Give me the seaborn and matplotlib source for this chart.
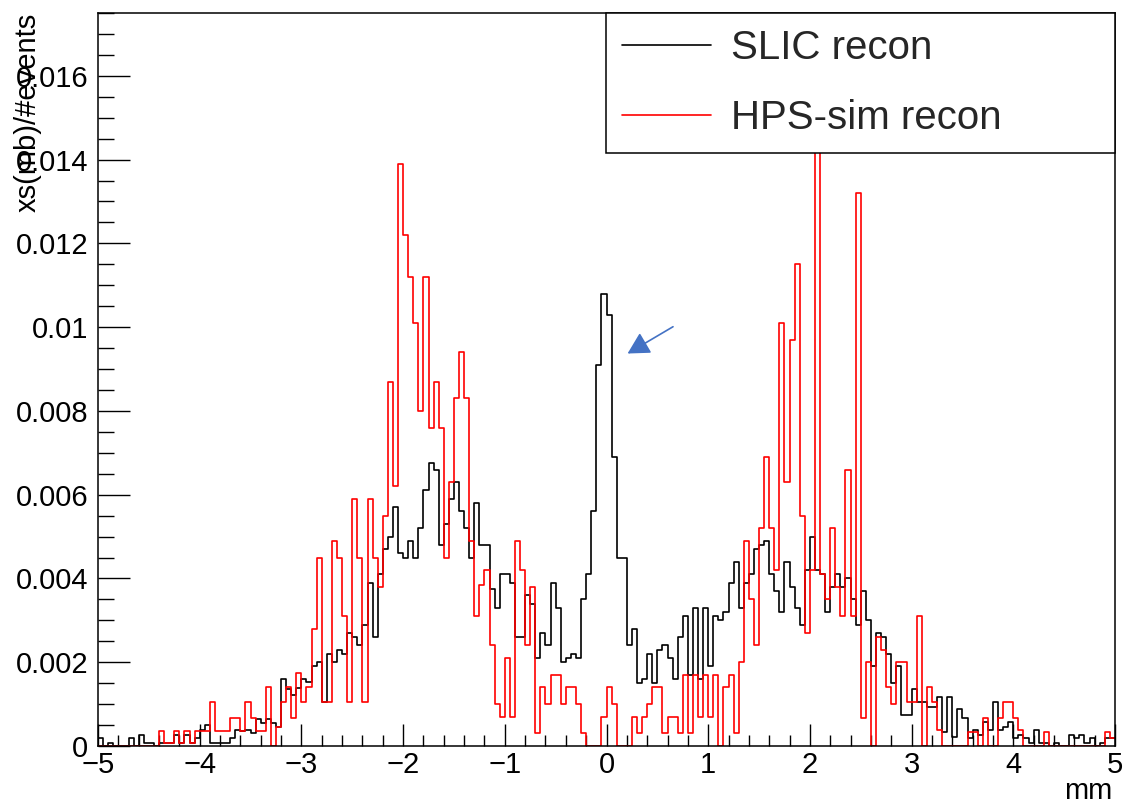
import numpy as np
import pandas as pd
import matplotlib
matplotlib.use("Agg")
import matplotlib.pyplot as plt
from matplotlib.lines import Line2D
from matplotlib.ticker import MultipleLocator, FuncFormatter
import seaborn as sns

# ---------------- data ----------------
x_min, x_max, n_bins = -5.0, 5.0, 200
series_names = ["SLIC recon", "HPS-sim recon"]
series_colors = ["#000000", "#ff0000"]
x_label = "mm"
y_label = "xs(mb)/#events"

slic_recon = [
    0.00018, 0, 0.00008, 0, 0, 0, 0.00018, 0, 0.00026, 0.00008,
    0.00008, 0, 0.00008, 0.00008, 0.00008, 0.00026, 0.00008, 0.00026, 0.00008, 0.00018,
    0.00038, 0.00049, 0.00008, 0.00008, 0.00008, 0.00008, 0.00018, 0.00038, 0.00036, 0.00038,
    0.00031, 0.00065, 0.00056, 0.00065, 0.00055, 0.00046, 0.0016, 0.00136, 0.00122, 0.00139,
    0.0016, 0.00153, 0.0019, 0.0020, 0.00106, 0.0022, 0.0020, 0.0023, 0.0022, 0.0027,
    0.0026, 0.0024, 0.0029, 0.0039, 0.0026, 0.0041, 0.0047, 0.0050, 0.0057, 0.0046,
    0.0045, 0.0049, 0.0045, 0.0052, 0.0061, 0.00675, 0.0066, 0.0048, 0.0053, 0.0059,
    0.0063, 0.0056, 0.0052, 0.0045, 0.0058, 0.0048, 0.0048, 0.00375, 0.0033, 0.0041,
    0.0041, 0.0039, 0.0026, 0.0026, 0.0036, 0.0034, 0.0021, 0.0027, 0.0024, 0.0039,
    0.0033, 0.0020, 0.0021, 0.0022, 0.0021, 0.0035, 0.0041, 0.0056, 0.0091, 0.0108,
    0.0103, 0.0069, 0.0045, 0.0045, 0.0024, 0.0028, 0.0015, 0.0016, 0.0022, 0.0015,
    0.0023, 0.0024, 0.0021, 0.0016, 0.0026, 0.0031, 0.0017, 0.0033, 0.0016, 0.0033,
    0.0019, 0.0031, 0.0030, 0.0032, 0.0039, 0.0044, 0.0033, 0.0039, 0.0041, 0.0047,
    0.0048, 0.0049, 0.0041, 0.0037, 0.0032, 0.0044, 0.0038, 0.0033, 0.0029, 0.0042,
    0.0050, 0.0042, 0.0041, 0.0032, 0.0038, 0.0041, 0.0038, 0.0040, 0.0035, 0.0029,
    0.0037, 0.0030, 0.0019, 0.0027, 0.0026, 0.0022, 0.0015, 0.0019, 0.00075, 0.00075,
    0.00136, 0.00106, 0.00106, 0.00094, 0.00094, 0.00118, 0.00034, 0.00118, 0.00022, 0.00088,
    0.00066, 0.00018, 0.00038, 0.00026, 0.00058, 0.00038, 0.00106, 0.00038, 0.00046, 0.00058,
    0.00018, 0.00026, 0.00018, 0.00008, 0.00038, 0.00008, 0.00008, 0, 0.00008, 0,
    0, 0.00026, 0.00018, 0.00026, 0.00008, 0.00018, 0, 0.00008, 0.00018, 0.00018,
]

hps_sim_recon = [
    0, 0, 0, 0, 0, 0, 0, 0, 0, 0,
    0, 0, 0.00036, 0.00008, 0.00008, 0.00036, 0.00008, 0.00036, 0.00008, 0.00036,
    0.00036, 0.00036, 0.00106, 0.00036, 0.00036, 0.00036, 0.00068, 0.00068, 0.00036, 0.00106,
    0.00068, 0.00036, 0.00036, 0.0014, 0, 0.00046, 0.00106, 0.0014, 0.00068, 0.00174,
    0.00106, 0.0014, 0.0028, 0.0045, 0.00106, 0.00106, 0.0049, 0.0045, 0.0031, 0.00106,
    0.0059, 0.0045, 0.00106, 0.0059, 0.0045, 0.0038, 0.0055, 0.0087, 0.0062, 0.0139,
    0.0122, 0.0112, 0.0101, 0.0080, 0.0112, 0.0076, 0.0087, 0.0076, 0.0045, 0.0063,
    0.0083, 0.0094, 0.0083, 0.0049, 0.0031, 0.00385, 0.0042, 0.0024, 0.0010, 0.0007,
    0.0021, 0.0007, 0.0049, 0.0042, 0.0024, 0.0038, 0.0003, 0.0014, 0.0010, 0.0017,
    0.0017, 0.0010, 0.0014, 0.0014, 0.0010, 0.0003, 0, 0, 0, 0.0007,
    0.0014, 0.0010, 0, 0, 0, 0.0007, 0.0003, 0.0007, 0.0010, 0.0014,
    0.0014, 0.0003, 0.0007, 0.0007, 0.0003, 0.0017, 0.0003, 0.0017, 0.0007, 0.0017,
    0.0007, 0.0017, 0, 0.0014, 0.0017, 0.0003, 0.0020, 0.0049, 0.0035, 0.0024,
    0.0052, 0.0069, 0.0052, 0.0042, 0.0101, 0.0063, 0.0097, 0.0115, 0.0055, 0.0027,
    0.0042, 0.0165, 0.0041, 0.0035, 0.0052, 0.0038, 0.0031, 0.0066, 0.0031, 0.0132,
    0.00066, 0.0020, 0, 0.0026, 0.0023, 0.0014, 0.0010, 0.0020, 0.0020, 0.00106,
    0.00106, 0.0031, 0, 0.0014, 0.00106, 0.00038, 0, 0, 0, 0,
    0, 0.00034, 0.00034, 0, 0.00068, 0, 0, 0.00068, 0.00106, 0.00106,
    0.00068, 0.00038, 0, 0, 0, 0, 0.00034, 0, 0, 0,
    0, 0, 0, 0, 0, 0, 0, 0, 0.00034, 0.00018,
]

# annotation arrow (tail -> head), in data units
arrow_tail = (0.654, 0.01001)
arrow_head = (0.207, 0.00937)

# ---------------- style ----------------
sns.set_style("white")
plt.rcParams["font.family"] = ["Liberation Sans", "DejaVu Sans"]

W, H = 1127, 810
fig = plt.figure(figsize=(W / 100, H / 100), dpi=100)
ax = fig.add_axes([98 / W, 1 - 746 / H, (1115 - 98) / W, (746 - 13) / H])

edges = np.linspace(x_min, x_max, n_bins + 1)
centers = 0.5 * (edges[:-1] + edges[1:])

for name, vals, col in zip(series_names, [slic_recon, hps_sim_recon], series_colors):
    df = pd.DataFrame({"x": centers, "w": vals})
    sns.histplot(data=df, x="x", weights="w", bins=n_bins, binrange=(x_min, x_max),
                 element="step", fill=False, color=col, linewidth=1.2, ax=ax)

ax.set_xlim(x_min, x_max)
ax.set_ylim(0, 0.0175)
ax.set_xlabel("")
ax.set_ylabel("")

for s in ax.spines.values():
    s.set_color("black")
    s.set_linewidth(1.1)

ax.xaxis.set_major_locator(MultipleLocator(1))
ax.xaxis.set_minor_locator(MultipleLocator(0.2))
ax.yaxis.set_major_locator(MultipleLocator(0.002))
ax.yaxis.set_minor_locator(MultipleLocator(0.0005))
ax.yaxis.set_major_formatter(FuncFormatter(lambda v, _: "0" if abs(v) < 1e-12 else f"{v:g}"))

ax.tick_params(axis="x", which="major", direction="in", length=16, width=1.0,
               labelsize=21, pad=3.5, colors="black", top=False, bottom=True)
ax.tick_params(axis="x", which="minor", direction="in", length=8, width=1.0,
               top=False, bottom=True, colors="black")
ax.tick_params(axis="y", which="major", direction="in", length=23, width=1.0,
               labelsize=21, pad=7, colors="black", right=False, left=True)
ax.tick_params(axis="y", which="minor", direction="in", length=11.5, width=1.0,
               right=False, left=True, colors="black")

# axis titles placed ROOT-style
ax.text(-0.0688, 1.0, y_label, transform=ax.transAxes, rotation=90,
        ha="center", va="top", fontsize=21, color="black")
fig.text(1112 / W, 1 - 777 / H, x_label, ha="right", va="top", fontsize=21, color="black")

# legend
handles = [Line2D([0], [0], color=c, lw=1.2) for c in series_colors]
leg = ax.legend(handles, series_names, loc="upper left",
                bbox_to_anchor=(0.4995, 0.813, 0.5005, 0.187), mode="expand",
                borderaxespad=0, fontsize=29, frameon=True, fancybox=False,
                framealpha=1, edgecolor="black", borderpad=0.4, labelspacing=0.8,
                handlelength=2.2, handletextpad=0.5)
leg.get_frame().set_linewidth(1.1)

# blue arrow annotation
ax.annotate("", xy=arrow_head, xytext=arrow_tail,
            arrowprops=dict(arrowstyle="-|>,head_length=0.55,head_width=0.3",
                            color="#4472C4", lw=1.2,
                            mutation_scale=24, shrinkA=0, shrinkB=0))

fig.savefig("out.png", dpi=100, facecolor="white")
